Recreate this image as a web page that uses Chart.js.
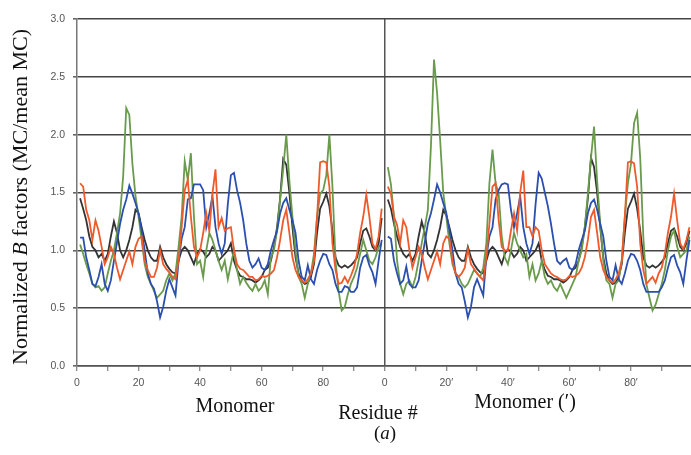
<!DOCTYPE html>
<html>
<head>
<meta charset="utf-8">
<script src="https://cdn.jsdelivr.net/npm/chart.js@4/dist/chart.umd.min.js"></script>
<style>
  html, body { margin: 0; padding: 0; background: #fff; }
  #wrap { width: 691px; height: 455px; }
</style>
</head>
<body>
<div id="wrap"><canvas id="c" width="691" height="455"></canvas></div>
<script>
// residue 1..99 of each monomer, normalized main-chain B factors
const orangeA = [1.58,1.55,1.35,1.26,1.09,1.26,1.17,1.03,0.88,0.94,
  1.03,0.97,0.85,0.75,0.83,0.91,0.99,0.88,1.03,1.10,
  1.12,0.91,0.83,0.77,0.77,0.85,1.00,0.88,0.84,0.81,
  0.77,0.75,0.91,1.20,1.52,1.61,1.29,1.03,0.94,1.00,
  1.15,1.32,1.17,1.49,1.70,1.20,1.28,1.17,1.19,1.20,
  1.00,0.88,0.84,0.83,0.80,0.77,0.77,0.74,0.75,0.78,
  0.77,0.78,0.80,0.83,0.94,1.09,1.26,1.35,1.15,0.94,
  0.83,0.77,0.74,0.72,0.75,0.80,0.91,1.29,1.76,1.77,
  1.76,1.55,1.06,0.83,0.71,0.72,0.77,0.72,0.78,0.85,
  0.97,1.15,1.29,1.48,1.29,1.06,1.01,1.12,1.36];
const orangeB = [1.55,1.49,1.29,1.22,1.06,1.26,1.20,1.00,0.85,0.94,
  1.03,0.97,0.85,0.75,0.83,0.91,0.99,0.88,1.06,1.12,
  1.10,0.91,0.80,0.77,0.80,0.85,1.01,0.88,0.84,0.80,
  0.77,0.74,0.94,1.23,1.55,1.58,1.26,1.03,1.00,1.00,
  1.17,1.32,1.17,1.50,1.69,1.20,1.20,1.12,1.20,1.17,
  1.00,0.88,0.84,0.80,0.78,0.77,0.75,0.74,0.75,0.78,
  0.77,0.78,0.80,0.85,0.94,1.09,1.29,1.35,1.15,0.94,
  0.83,0.77,0.74,0.72,0.75,0.80,0.91,1.29,1.76,1.77,
  1.75,1.55,1.06,0.83,0.71,0.74,0.77,0.72,0.80,0.85,
  0.97,1.15,1.29,1.49,1.26,1.06,1.01,1.09,1.20];
const blueA = [1.11,1.11,0.94,0.83,0.71,0.69,0.77,0.88,0.71,0.65,
  0.74,0.91,1.07,1.23,1.35,1.44,1.56,1.49,1.41,1.32,
  1.17,1.00,0.80,0.71,0.67,0.56,0.42,0.51,0.65,0.75,
  0.68,0.61,0.91,1.10,1.20,1.44,1.45,1.57,1.57,1.57,
  1.52,1.20,1.32,1.47,1.20,1.06,0.97,1.06,1.40,1.65,
  1.67,1.52,1.41,1.26,1.06,0.91,0.85,0.88,0.93,0.85,
  0.83,0.88,1.00,1.09,1.17,1.32,1.41,1.45,1.35,1.26,
  1.15,0.91,0.77,0.74,0.87,0.75,0.71,0.83,0.91,0.97,
  0.96,0.88,0.83,0.71,0.64,0.64,0.69,0.68,0.64,0.64,
  0.68,0.85,0.94,0.96,0.87,0.81,0.71,0.91,1.09];
const blueB = [1.12,1.10,0.91,0.80,0.71,0.74,0.86,0.71,0.68,0.68,
  0.74,0.91,1.07,1.23,1.32,1.44,1.57,1.50,1.41,1.32,
  1.17,1.00,0.80,0.71,0.68,0.56,0.42,0.51,0.68,0.75,
  0.68,0.61,0.94,1.12,1.20,1.44,1.52,1.57,1.58,1.57,
  1.35,1.20,1.32,1.47,1.20,1.06,0.97,1.06,1.40,1.67,
  1.62,1.50,1.38,1.23,1.06,0.91,0.88,0.91,0.93,0.85,
  0.83,0.88,1.00,1.09,1.17,1.32,1.41,1.44,1.35,1.23,
  1.12,0.91,0.77,0.74,0.87,0.75,0.71,0.80,0.91,0.97,
  0.96,0.91,0.83,0.71,0.64,0.64,0.64,0.64,0.64,0.68,
  0.74,0.85,0.94,0.96,0.87,0.81,0.71,0.91,1.09];
const greenA = [1.05,0.97,0.88,0.80,0.71,0.68,0.69,0.65,0.68,0.80,
  0.91,1.00,1.15,1.32,1.64,2.23,2.17,1.75,1.47,1.29,
  1.09,0.88,0.77,0.71,0.65,0.59,0.62,0.65,0.74,0.80,
  0.74,0.80,1.03,1.29,1.77,1.61,1.84,1.29,0.88,0.91,
  0.77,1.00,1.15,1.09,1.00,0.91,0.83,0.91,0.75,0.88,
  1.00,0.83,0.71,0.77,0.72,0.68,0.65,0.71,0.65,0.68,
  0.74,0.62,0.94,1.00,1.17,1.44,1.70,2.00,1.60,1.29,
  1.00,0.77,0.71,0.59,0.71,0.80,0.97,1.29,1.49,1.52,
  1.65,2.00,1.55,0.91,0.65,0.48,0.51,0.62,0.71,0.77,
  0.85,0.97,1.09,1.00,0.91,0.88,0.94,1.03,1.06];
const greenB = [1.72,1.57,1.29,0.91,0.71,0.62,0.71,0.74,0.68,0.77,
  0.91,1.06,1.20,1.35,1.90,2.65,2.36,1.95,1.50,1.29,
  1.06,0.88,0.80,0.77,0.71,0.68,0.71,0.77,0.83,0.80,
  0.77,0.85,1.06,1.58,1.87,1.58,1.49,1.12,0.94,0.88,
  1.00,1.15,1.06,1.00,0.94,0.97,0.77,0.88,0.74,0.80,
  0.91,0.77,0.71,0.74,0.68,0.65,0.71,0.65,0.59,0.65,
  0.71,0.77,0.91,1.00,1.20,1.49,1.80,2.07,1.60,1.23,
  0.91,0.74,0.71,0.59,0.71,0.74,0.91,1.29,1.58,1.75,
  2.10,2.19,1.80,1.12,0.71,0.59,0.48,0.53,0.62,0.71,
  0.83,1.00,1.12,1.17,1.03,0.94,0.97,1.00,1.12];
const blackA = [1.45,1.36,1.26,1.12,1.03,1.00,0.94,0.97,0.91,0.97,
  1.12,1.25,1.15,1.00,0.94,1.00,1.09,1.20,1.35,1.32,
  1.20,1.09,1.00,0.94,0.91,0.91,1.03,0.94,0.88,0.84,
  0.81,0.80,0.91,1.00,1.03,1.00,0.94,0.88,0.97,1.01,
  0.99,0.94,0.97,1.03,1.00,0.91,0.94,0.97,1.00,1.06,
  0.91,0.83,0.78,0.77,0.75,0.75,0.74,0.72,0.74,0.77,
  0.83,0.85,0.91,1.03,1.20,1.45,1.79,1.74,1.50,1.20,
  0.94,0.80,0.74,0.71,0.72,0.77,0.88,1.15,1.36,1.42,
  1.49,1.38,1.17,0.94,0.87,0.85,0.87,0.85,0.87,0.90,
  0.94,1.06,1.17,1.19,1.12,1.03,1.00,1.06,1.28];
const blackB = [1.44,1.36,1.23,1.12,1.03,0.97,0.94,0.97,0.91,0.97,
  1.12,1.25,1.15,0.97,0.94,1.00,1.09,1.20,1.35,1.30,
  1.20,1.09,1.00,0.94,0.91,0.91,1.03,0.94,0.88,0.84,
  0.81,0.80,0.91,1.00,1.03,1.00,0.94,0.88,0.97,1.01,
  0.99,0.94,0.97,1.03,1.00,0.91,0.94,0.97,1.00,1.06,
  0.91,0.83,0.78,0.77,0.75,0.75,0.74,0.72,0.74,0.77,
  0.83,0.85,0.91,1.03,1.20,1.45,1.80,1.72,1.50,1.20,
  0.94,0.80,0.74,0.71,0.72,0.77,0.88,1.15,1.36,1.42,
  1.49,1.36,1.17,0.94,0.87,0.85,0.87,0.85,0.87,0.90,
  0.94,1.06,1.17,1.19,1.12,1.03,1.00,1.06,1.17];

const yTicks = ["0.0","0.5","1.0","1.5","2.0","2.5","3.0"];
const xTickLabels = { 0:"0", 20:"20", 40:"40", 60:"60", 80:"80",
  100:"0", 120:"20\u2032", 140:"40\u2032", 160:"60\u2032", 180:"80\u2032" };
const OFFSET = 100; // second monomer starts at x = 100

function series(a, b) {
  const pts = a.map((v, i) => ({ x: i + 1, y: v }));
  pts.push({ x: OFFSET, y: null });
  b.forEach((v, i) => pts.push({ x: OFFSET + i + 1, y: v }));
  return pts;
}

function line(label, data, color) {
  return { label, data, borderColor: color, borderWidth: 1.8,
    pointRadius: 0, tension: 0, fill: false, spanGaps: false };
}

const serif = '"Liberation Serif", "Times New Roman", serif';

const labelsPlugin = {
  id: "labels",
  afterDraw(chart) {
    const ctx = chart.ctx;
    ctx.save();
    ctx.fillStyle = "#111";
    ctx.textBaseline = "middle";
    ctx.textAlign = "center";
    ctx.font = "20px " + serif;
    ctx.fillText("Monomer", 235, 407);
    ctx.fillText("Monomer (\u2032)", 525, 403);
    ctx.fillText("Residue #", 378, 414);
    // (a) with italic a
    ctx.textAlign = "left";
    const p1 = "(", p2 = "a", p3 = ")";
    ctx.font = "19px " + serif;
    const w1 = ctx.measureText(p1).width, w3 = ctx.measureText(p3).width;
    ctx.font = "italic 19px " + serif;
    const w2 = ctx.measureText(p2).width;
    let x = 385 - (w1 + w2 + w3) / 2;
    ctx.font = "19px " + serif; ctx.fillText(p1, x, 434); x += w1;
    ctx.font = "italic 19px " + serif; ctx.fillText(p2, x, 434); x += w2;
    ctx.font = "19px " + serif; ctx.fillText(p3, x, 434);

    // y title, rotated, with italic B
    ctx.translate(21, 197);
    ctx.rotate(-Math.PI / 2);
    const parts = [["Normalized ", ""], ["B", "italic "], [" factors (MC/mean MC)", ""]];
    const size = 22;
    let total = 0;
    parts.forEach(p => { ctx.font = p[1] + size + "px " + serif; total += ctx.measureText(p[0]).width; });
    let px = -total / 2;
    parts.forEach(p => {
      ctx.font = p[1] + size + "px " + serif;
      ctx.fillText(p[0], px, 0);
      px += ctx.measureText(p[0]).width;
    });
    ctx.restore();
  }
};

new Chart(document.getElementById("c"), {
  type: "line",
  data: {
    datasets: [
      line("orange", series(orangeA, orangeB), "#ee5a2c"),
      line("blue", series(blueA, blueB), "#2a4fae"),
      line("green", series(greenA, greenB), "#6a9b4c"),
      line("black", series(blackA, blackB), "#333333")
    ]
  },
  options: {
    responsive: false,
    animation: false,
    devicePixelRatio: 1,
    layout: { padding: { top: 19, right: 0, left: 0, bottom: 0 } },
    plugins: { legend: { display: false }, tooltip: { enabled: false } },
    scales: {
      x: {
        type: "linear", min: 0, max: 199.5,
        afterFit: s => { s.height = 89; },
        afterBuildTicks: s => { s.ticks = []; for (let v = 0; v <= 190; v += 10) s.ticks.push({ value: v }); },
        ticks: {
          autoSkip: false, maxRotation: 0, padding: 6,
          color: "#555", font: { family: "Liberation Sans", size: 10.5 },
          callback: v => xTickLabels[v] ?? ""
        },
        grid: {
          color: c => (c.tick && c.tick.value === OFFSET) ? "#555" : "rgba(0,0,0,0)",
          lineWidth: 1.5, tickLength: 5, tickColor: "#666", tickWidth: 1
        },
        border: { display: true, color: "#555", width: 1.5 }
      },
      y: {
        min: 0, max: 3,
        afterFit: s => { s.width = 77; },
        ticks: {
          stepSize: 0.5, padding: 8, color: "#555",
          font: { family: "Liberation Sans", size: 10.5 },
          callback: (v, i) => yTicks[i]
        },
        grid: { color: "#444", lineWidth: 1.6, tickLength: 4, tickColor: "#666" },
        border: { display: true, color: "#777", width: 1.5 }
      }
    }
  },
  plugins: [labelsPlugin]
});
</script>
</body>
</html>
